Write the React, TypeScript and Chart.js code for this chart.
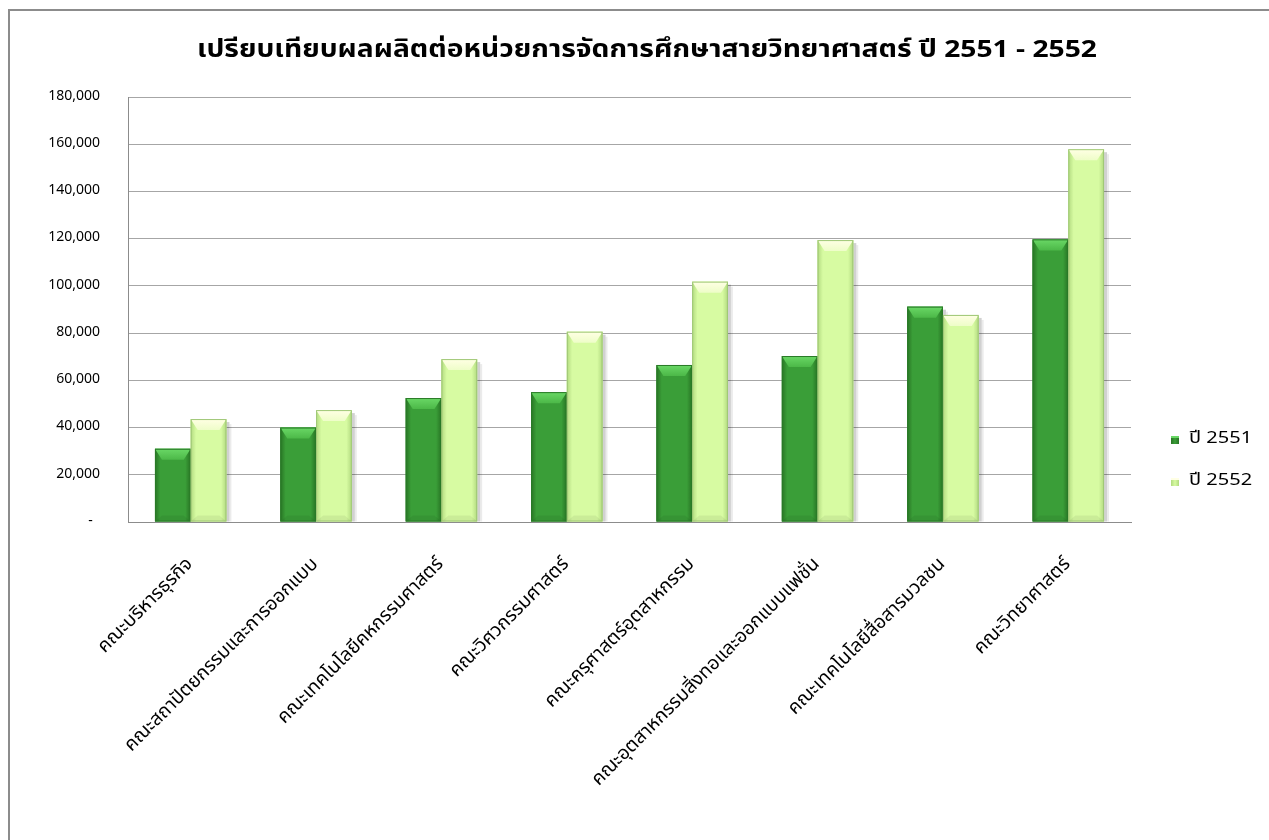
import React, { useEffect, useRef } from "react";
import { Chart, registerables } from "chart.js";

Chart.register(...registerables);

const titleText = "เปรียบเทียบผลผลิตต่อหน่วยการจัดการศึกษาสายวิทยาศาสตร์ ปี 2551 - 2552";
const categories = [
  "คณะบริหารธุรกิจ",
  "คณะสถาปัตยกรรมและการออกแบบ",
  "คณะเทคโนโลยีคหกรรมศาสตร์",
  "คณะวิศวกรรมศาสตร์",
  "คณะครุศาสตร์อุตสาหกรรม",
  "คณะอุตสาหกรรมสิ่งทอและออกแบบแฟชั่น",
  "คณะเทคโนโลยีสื่อสารมวลชน",
  "คณะวิทยาศาสตร์",
];
const seriesNames = ["ปี 2551", "ปี 2552"];
const values2551 = [31000, 40000, 52500, 55000, 66500, 70300, 91200, 119700];
const values2552 = [43600, 47400, 69000, 80600, 101800, 119400, 87700, 157900];
const yMax = 180000;
const yStep = 20000;

const FONT = 'Tahoma, "Noto Sans Thai", "Noto Sans", "DejaVu Sans", sans-serif';

const palettes = [
  { main: "#3a9e38", edge: "#287424", top: "#6ad866", topIn: "#4cb848", border: "#2a7a28" },
  { main: "#d7fba2", edge: "#b2da80", top: "#ffffe4", topIn: "#eefdc8", border: "#9fc776" },
];

const bevelPlugin = {
  id: "bevelBars",
  afterDatasetsDraw(chart: any) {
    const ctx = chart.ctx as CanvasRenderingContext2D;
    chart.data.datasets.forEach((_: any, di: number) => {
      const meta = chart.getDatasetMeta(di);
      const p = palettes[di];
      meta.data.forEach((el: any) => {
        const w = el.width;
        const left = el.x - w / 2;
        const right = el.x + w / 2;
        const top = el.y;
        const bottom = el.base;
        const h = bottom - top;
        ctx.save();
        ctx.fillStyle = "rgba(0,0,0,0.18)";
        ctx.fillRect(right, top + 3, 3, h - 3);
        ctx.fillStyle = "rgba(0,0,0,0.08)";
        ctx.fillRect(right + 3, top + 5, 2, h - 5);
        const g = ctx.createLinearGradient(left, 0, right, 0);
        g.addColorStop(0, p.edge);
        g.addColorStop(0.15, p.main);
        g.addColorStop(0.85, p.main);
        g.addColorStop(1, p.edge);
        ctx.fillStyle = g;
        ctx.fillRect(left, top, w, h);
        const bv = Math.min(11, h / 2);
        const inset = 7;
        const tg = ctx.createLinearGradient(0, top, 0, top + bv);
        tg.addColorStop(0, p.top);
        tg.addColorStop(1, p.topIn);
        ctx.fillStyle = tg;
        ctx.beginPath();
        ctx.moveTo(left, top);
        ctx.lineTo(right, top);
        ctx.lineTo(right - inset, top + bv);
        ctx.lineTo(left + inset, top + bv);
        ctx.closePath();
        ctx.fill();
        ctx.fillStyle = "rgba(0,0,0,0.06)";
        ctx.beginPath();
        ctx.moveTo(left, bottom);
        ctx.lineTo(right, bottom);
        ctx.lineTo(right - inset, bottom - 6);
        ctx.lineTo(left + inset, bottom - 6);
        ctx.closePath();
        ctx.fill();
        ctx.strokeStyle = p.border;
        ctx.lineWidth = 1;
        ctx.strokeRect(left + 0.5, top + 0.5, w - 1, h - 1);
        ctx.restore();
      });
    });
  },
};

const titleLegendPlugin = {
  id: "titleLegend",
  afterDraw(chart: any) {
    const ctx = chart.ctx as CanvasRenderingContext2D;
    ctx.save();
    ctx.fillStyle = "#000";
    ctx.font = "bold 24px " + FONT;
    ctx.textAlign = "center";
    ctx.textBaseline = "middle";
    const tw = ctx.measureText(titleText).width;
    const sx = 900 / tw;
    ctx.save();
    ctx.translate(637, 41);
    ctx.scale(sx, 1);
    ctx.fillText(titleText, 0, 0);
    ctx.restore();

    ctx.font = "17px " + FONT;
    ctx.textAlign = "left";
    seriesNames.forEach((name, i) => {
      const cy = 429 + i * 42;
      const p = palettes[i];
      const g = ctx.createLinearGradient(1161, 0, 1169, 0);
      g.addColorStop(0, p.edge);
      g.addColorStop(0.5, p.main);
      g.addColorStop(1, p.edge);
      ctx.fillStyle = g;
      ctx.fillRect(1161, cy - 4, 8, 8);
      ctx.fillStyle = p.top;
      ctx.fillRect(1161, cy - 4, 8, 2);
      ctx.fillStyle = "#000";
      ctx.save();
      ctx.translate(1179, cy);
      ctx.scale(1.18, 1);
      ctx.fillText(name, 0, 0);
      ctx.restore();
    });
    ctx.restore();
  },
};

export default function App() {
  const ref = useRef<HTMLCanvasElement | null>(null);
  useEffect(() => {
    if (!ref.current) return;
    const chart = new Chart(ref.current, {
      type: "bar",
      data: {
        labels: categories,
        datasets: [
          { label: seriesNames[0], data: values2551, backgroundColor: palettes[0].main },
          { label: seriesNames[1], data: values2552, backgroundColor: palettes[1].main },
        ],
      },
      options: {
        responsive: false,
        animation: false,
        devicePixelRatio: 1,
        layout: { padding: { top: 86, right: 138, left: 0, bottom: 0 } },
        datasets: { bar: { categoryPercentage: 0.57, barPercentage: 1 } },
        plugins: {
          legend: { display: false },
          title: { display: false },
          tooltip: { enabled: false },
        },
        scales: {
          x: {
            grid: { display: false, drawTicks: false },
            border: { display: true, color: "#8c8c8c", width: 1 },
            ticks: {
              minRotation: 45,
              maxRotation: 45,
              padding: 32,
              color: "#000",
              font: { family: FONT, size: 19 },
              autoSkip: false,
            },
            afterFit(scale: any) {
              scale.height = 318;
            },
          },
          y: {
            min: 0,
            max: yMax,
            grid: { color: "#a6a6a6", drawTicks: false },
            border: { display: true, color: "#8c8c8c", width: 1 },
            ticks: {
              stepSize: yStep,
              padding: 28,
              color: "#000",
              font: { family: FONT, size: 14 },
              callback: (v: any) => (Number(v) === 0 ? "-  " : Number(v).toLocaleString("en-US")),
            },
            afterFit(scale: any) {
              scale.width = 118;
            },
          },
        },
      },
      plugins: [bevelPlugin, titleLegendPlugin],
    });
    return () => chart.destroy();
  }, []);
  return (
    <div
      style={{
        position: "fixed",
        left: 8,
        top: 9,
        width: 1300,
        height: 900,
        border: "2px solid #8c8c8c",
        background: "#fff",
      }}
    >
      <canvas ref={ref} width={1259} height={829} style={{ display: "block" }} />
    </div>
  );
}
